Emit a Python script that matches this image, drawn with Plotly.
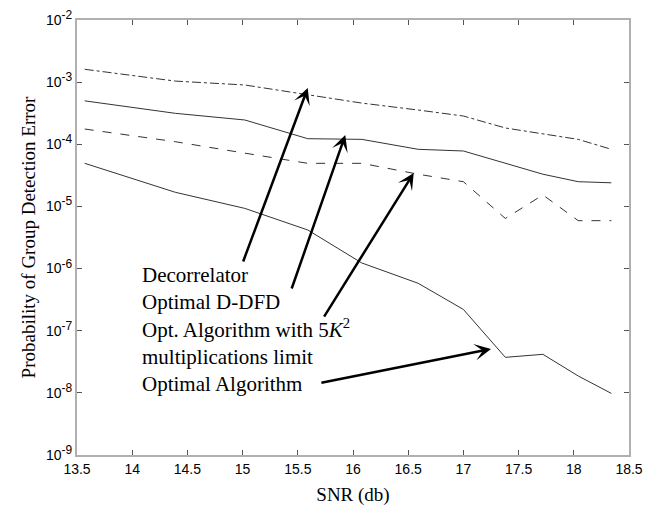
import plotly.graph_objects as go

snr = [13.57, 14.39, 15.02, 15.59, 16.08, 16.59, 17.0, 17.38, 17.72, 18.04, 18.34]
decorrelator = [1.61e-3, 1.04e-3, 9.0e-4, 6.2e-4, 4.6e-4, 3.56e-4, 2.85e-4, 1.83e-4, 1.46e-4, 1.2e-4, 8.3e-5]
optimal_ddfd = [5.0e-4, 3.15e-4, 2.46e-4, 1.23e-4, 1.2e-4, 8.3e-5, 7.8e-5, 4.94e-5, 3.3e-5, 2.5e-5, 2.4e-5]
opt_5k2 = [1.76e-4, 1.1e-4, 7.2e-5, 4.94e-5, 4.94e-5, 3.3e-5, 2.5e-5, 6.4e-6, 1.53e-5, 5.9e-6, 5.9e-6]
optimal_alg = [4.94e-5, 1.69e-5, 9.3e-6, 4.18e-6, 1.23e-6, 5.8e-7, 2.2e-7, 3.73e-8, 4.17e-8, 1.87e-8, 9.8e-9]

x_ticks = [13.5, 14, 14.5, 15, 15.5, 16, 16.5, 17, 17.5, 18, 18.5]
y_exps = [-9, -8, -7, -6, -5, -4, -3, -2]

# arrow (tip, tail) positions in data units (x, log10 y)
arrows = [
    ((15.59, -3.094), (15.00, -5.91)),
    ((15.93, -3.851), (15.44, -6.345)),
    ((16.55, -4.462), (15.73, -6.796)),
    ((17.25, -7.294), (15.70, -7.842)),
]

fig = go.Figure()
series = [
    (decorrelator, "dashdot"),
    (optimal_ddfd, "solid"),
    (opt_5k2, "dash"),
    (optimal_alg, "solid"),
]
for vals, dash in series:
    fig.add_trace(go.Scatter(x=snr, y=vals, mode="lines",
                             line=dict(color="#333333", width=1, dash=dash),
                             showlegend=False))

for (tip, tail) in arrows:
    fig.add_annotation(x=tip[0], y=tip[1], ax=tail[0], ay=tail[1],
                       xref="x", yref="y", axref="x", ayref="y",
                       showarrow=True, arrowhead=3, arrowsize=1.1,
                       arrowwidth=2.5, arrowcolor="black", text="")

fig.add_annotation(
    xref="paper", yref="paper", x=0.114, y=0.447, xanchor="left", yanchor="top",
    align="left", showarrow=False,
    text="Decorrelator<br>Optimal D-DFD<br>Opt. Algorithm with 5<i>K</i><sup>2</sup><br>"
         "multiplications limit<br>Optimal Algorithm",
    font=dict(family="Liberation Serif", size=21, color="black"))

axis_common = dict(showline=True, linecolor="#b0b0b0", linewidth=2, mirror="ticks",
                   ticks="inside", ticklen=5, tickcolor="#555555", showgrid=False,
                   zeroline=False, automargin=False,
                   tickfont=dict(family="Liberation Sans", size=14, color="black"))

fig.update_xaxes(range=[13.5, 18.5], tickvals=x_ticks,
                 ticktext=[str(t) for t in x_ticks],
                 title=dict(text="SNR (db)", font=dict(family="Liberation Serif", size=19, color="black"),
                            standoff=12),
                 **axis_common)
fig.update_yaxes(type="log", range=[-9, -2], tickvals=[10.0 ** e for e in y_exps],
                 ticktext=["10<sup><span style='font-size:12px'>%d</span></sup>" % e for e in y_exps],
                 title=dict(text="Probability of Group Detection Error",
                            font=dict(family="Liberation Serif", size=19, color="black"),
                            standoff=5),
                 **axis_common)

fig.update_layout(width=657, height=512, margin=dict(l=77, r=28, t=20, b=57),
                  paper_bgcolor="white", plot_bgcolor="white")

fig.write_html("out.html", config={"displayModeBar": False},
               post_script="document.body.style.margin='0px';")
